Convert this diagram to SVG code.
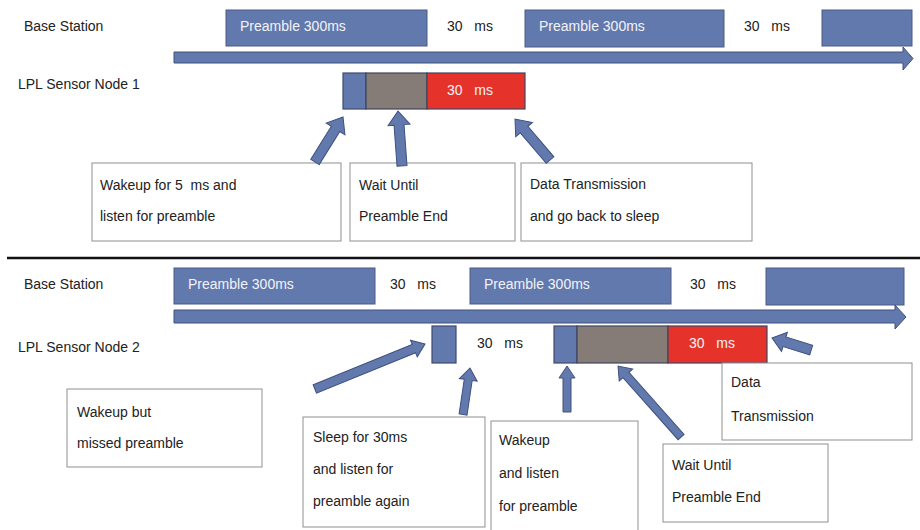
<svg xmlns="http://www.w3.org/2000/svg" width="920" height="530" viewBox="0 0 920 530">
<style>
text{font-family:"Liberation Sans",Arial,sans-serif;font-size:14px;fill:#222}
.w{fill:#f2f3f8}
.blue{fill:#6279ad;stroke:#4a5a85;stroke-width:1}
.gray{fill:#857c77;stroke:#3f4560;stroke-width:1.2}
.red{fill:#e5332b;stroke:#3f4560;stroke-width:1.2}
.nb{fill:#6279ad;stroke:#3f4a6e;stroke-width:1.2}
.box{fill:#fff;stroke:#8f8f8f;stroke-width:1}
.arr{fill:#6279ad;stroke:#3f507f;stroke-width:1}
</style>
<rect width="920" height="530" fill="#fff"/>

<!-- Top section -->
<g id="top-labels">
<text x="24" y="31">Base Station</text>
<text x="18" y="89">LPL Sensor Node 1</text>
</g>
<g id="top-bs">
<rect class="blue" x="226" y="10" width="201" height="36"/>
<text class="w" x="240" y="31">Preamble 300ms</text>
<text x="447" y="31" xml:space="preserve">30   ms</text>
<rect class="blue" x="525" y="10" width="199" height="37"/>
<text class="w" x="539" y="31">Preamble 300ms</text>
<text x="744" y="31" xml:space="preserve">30   ms</text>
<rect class="blue" x="822" y="10" width="90" height="36"/>
</g>
<g id="top-timeline">
<polygon class="arr" points="174,52 903,52 903,47 913,58.5 903,70 903,63 174,63"/>
</g>
<g id="node1">
<rect class="nb" x="343" y="73" width="23" height="36"/>
<rect class="gray" x="366" y="73" width="61" height="36"/>
<rect class="red" x="427" y="73" width="98" height="36"/>
<text class="w" x="447" y="95" xml:space="preserve">30   ms</text>
</g>
<g id="box-wakeup5">
<rect class="box" x="92" y="163" width="249" height="78"/>
<text x="100" y="190" xml:space="preserve">Wakeup for 5  ms and</text>
<text x="100" y="221">listen for preamble</text>
</g>
<g id="box-wait1">
<rect class="box" x="350" y="163" width="165" height="78"/>
<text x="359" y="190">Wait Until</text>
<text x="359" y="221">Preamble End</text>
</g>
<g id="box-data1">
<rect class="box" x="521" y="163" width="231" height="78"/>
<text x="530" y="189">Data Transmission</text>
<text x="530" y="221">and go back to sleep</text>
</g>

<line x1="7" y1="258" x2="920" y2="258" stroke="#111" stroke-width="2.5"/>

<!-- Bottom section -->
<g id="bottom-labels">
<text x="24" y="289">Base Station</text>
<text x="18" y="352">LPL Sensor Node 2</text>
</g>
<g id="bottom-bs">
<rect class="blue" x="174" y="268" width="201" height="36"/>
<text class="w" x="188" y="289">Preamble 300ms</text>
<text x="390" y="289" xml:space="preserve">30   ms</text>
<rect class="blue" x="470" y="268" width="201" height="36"/>
<text class="w" x="484" y="289">Preamble 300ms</text>
<text x="690" y="289" xml:space="preserve">30   ms</text>
<rect class="blue" x="766" y="268" width="138" height="37"/>
</g>
<g id="bottom-timeline">
<polygon class="arr" points="174,310 895,310 895,305 906,317 895,329 895,323 174,323"/>
</g>
<g id="node2">
<rect class="nb" x="432" y="326" width="24" height="37"/>
<text x="477" y="348" xml:space="preserve">30   ms</text>
<rect class="nb" x="554" y="326" width="23" height="37"/>
<rect class="gray" x="577" y="326" width="91" height="37"/>
<rect class="red" x="668" y="326" width="99" height="37"/>
<text class="w" x="689" y="348" xml:space="preserve">30   ms</text>
</g>
<g id="box-missed">
<rect class="box" x="67" y="389" width="195" height="78"/>
<text x="77" y="417">Wakeup but</text>
<text x="77" y="448">missed preamble</text>
</g>
<g id="box-sleep">
<rect class="box" x="303" y="417" width="182" height="110"/>
<text x="313" y="442">Sleep for 30ms</text>
<text x="313" y="474">and listen for</text>
<text x="313" y="506">preamble again</text>
</g>
<g id="box-wakeup2">
<rect class="box" x="491" y="421" width="147" height="112"/>
<text x="499" y="445">Wakeup</text>
<text x="499" y="478">and listen</text>
<text x="499" y="511">for preamble</text>
</g>
<g id="box-wait2">
<rect class="box" x="663" y="444" width="165" height="78"/>
<text x="672" y="470">Wait Until</text>
<text x="672" y="502">Preamble End</text>
</g>
<g id="box-data2">
<rect class="box" x="722" y="363" width="190" height="77"/>
<text x="731" y="387">Data</text>
<text x="731" y="421">Transmission</text>
</g>

<g id="connectors">
<polygon class="arr" transform="translate(343,117) rotate(-58.1)" points="0,0 -14,-11 -14,-5 -53,-5 -53,5 -14,5 -14,11"/>
<polygon class="arr" transform="translate(398,111) rotate(-94.2)" points="0,0 -14,-11 -14,-5 -55,-5 -55,5 -14,5 -14,11"/>
<polygon class="arr" transform="translate(515,119) rotate(-130.5)" points="0,0 -14,-11 -14,-5 -54,-5 -54,5 -14,5 -14,11"/>
<polygon class="arr" transform="translate(425,344) rotate(-22.2)" points="0,0 -12,-9 -12,-4.5 -119,-4.5 -119,4.5 -12,4.5 -12,9"/>
<polygon class="arr" transform="translate(470,368) rotate(-81.5)" points="0,0 -12,-9 -12,-4 -47,-4 -47,4 -12,4 -12,9"/>
<polygon class="arr" transform="translate(567,366) rotate(-90)" points="0,0 -12,-8 -12,-4 -46,-4 -46,4 -12,4 -12,8"/>
<polygon class="arr" transform="translate(618,366) rotate(-131.6)" points="0,0 -12,-9 -12,-4 -95,-4 -95,4 -12,4 -12,9"/>
<polygon class="arr" transform="translate(772,338) rotate(-162.9)" points="0,0 -13,-10 -13,-5 -41,-5 -41,5 -13,5 -13,10"/>
</g>
</svg>
